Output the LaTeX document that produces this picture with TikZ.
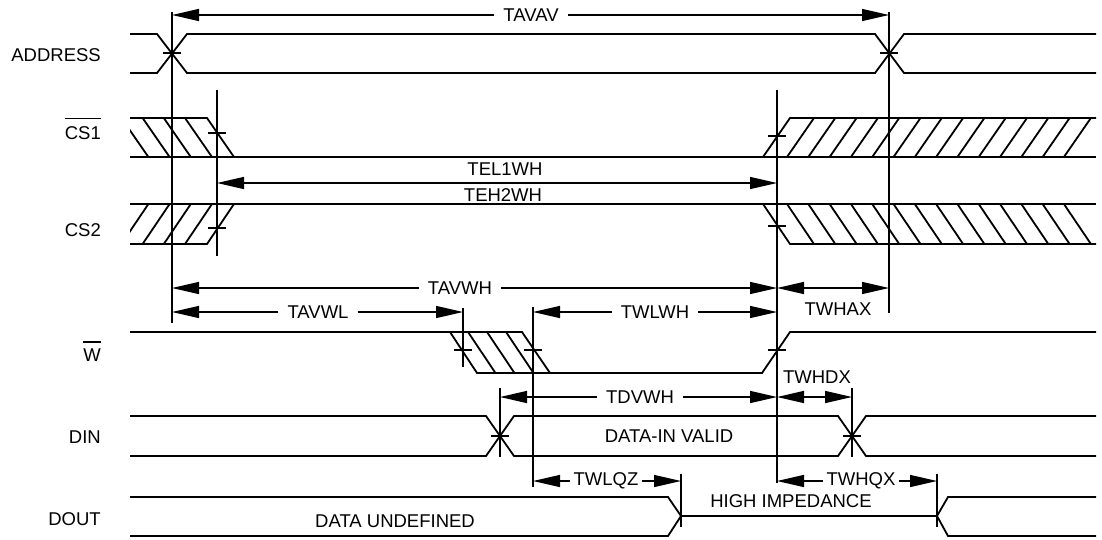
\documentclass[tikz,border=0pt]{standalone}
\usepackage{fontspec}
\setmainfont{Liberation Sans}
\usetikzlibrary{arrows.meta}
\begin{document}
\begin{tikzpicture}[x=1pt,y=-1pt,
  sig/.style={line width=1.8pt, line join=miter},
  ext/.style={line width=1.4pt},
  tickmark/.style={line width=1.4pt},
  dim/.style={line width=1.4pt, -{Triangle[length=27pt,width=12pt]}},
  dimb/.style={line width=1.4pt, {Triangle[length=27pt,width=12pt]}-{Triangle[length=27pt,width=12pt]}},
  lbl/.style={inner sep=0pt, anchor=east, font=\fontsize{18.5}{20}\selectfont},
  txt/.style={inner sep=0pt, font=\fontsize{18.5}{20}\selectfont},
  dtxt/.style={inner xsep=9pt, inner ysep=0pt, font=\fontsize{18.5}{20}\selectfont},
  dtxts/.style={inner xsep=3pt, inner ysep=0pt, font=\fontsize{18.5}{20}\selectfont},
  ovl/.style={line width=1.3pt}
]
\useasboundingbox (0,0) rectangle (1102,539);

% ---------- signal labels ----------
\node[lbl] (laddr) at (101,55) {ADDRESS};
\node[lbl] (lcs1) at (101,133) {CS1};
\draw[ovl] ([yshift=7.5pt]lcs1.north west) -- ([yshift=7.5pt]lcs1.north east);
\node[lbl] (lcs2) at (101,230) {CS2};
\node[lbl] (lw) at (101,355) {W};
\draw[ovl] ([yshift=6.5pt]lw.north west) -- ([yshift=6.5pt]lw.north east);
\node[lbl] (ldin) at (101,437) {DIN};
\node[lbl] (ldout) at (101,519) {DOUT};

% ---------- ADDRESS ----------
\draw[sig] (130,34) -- (157,34) -- (187,73) -- (875,73) -- (904,34) -- (1096,34);
\draw[sig] (130,73) -- (157,73) -- (187,34) -- (875,34) -- (904,73) -- (1096,73);

% ---------- CS1 ----------
\draw[sig] (130,118) -- (207,118) -- (234,157);
\draw[sig] (130,157) -- (1096,157);
\draw[sig] (763,157) -- (790,118) -- (1096,118);
\begin{scope}
  \clip (130,118) -- (207,118) -- (234,157) -- (130,157) -- cycle;
  \foreach \b in {148.4,169.6,190.8,212} \draw[sig] (\b-27,118) -- (\b,157);
\end{scope}
\foreach \k in {0,...,13} \draw[sig] (787+\k*21.3,157) -- (814+\k*21.3,118);

% ---------- CS2 ----------
\draw[sig] (130,204) -- (1096,204);
\draw[sig] (130,244) -- (207,244) -- (234,204);
\draw[sig] (763,204) -- (790,244) -- (1096,244);
\begin{scope}
  \clip (130,204) -- (234,204) -- (207,244) -- (130,244) -- cycle;
  \foreach \b in {148.4,169.6,190.8,212} \draw[sig] (\b-27,244) -- (\b,204);
\end{scope}
\foreach \k in {0,...,13} \draw[sig] (787+\k*21.3,204) -- (814+\k*21.3,244);

% ---------- W ----------
\draw[sig] (130,332) -- (522,332) -- (550,373);
\draw[sig] (450,332) -- (477,373) -- (762,373) -- (790,332) -- (1096,332);
\foreach \t in {468,487,506} \draw[sig] (\t,332) -- (\t+27.5,373);

% ---------- DIN ----------
\draw[sig] (130,416) -- (486,416) -- (514,456) -- (838,456) -- (866,416) -- (1096,416);
\draw[sig] (130,456) -- (486,456) -- (514,416) -- (838,416) -- (866,456) -- (1096,456);

% ---------- DOUT ----------
\draw[sig] (130,497) -- (668,497) -- (681,516) -- (668,536) -- (130,536);
\draw[sig] (681,516) -- (937,516);
\draw[sig] (1096,497) -- (948,497) -- (937,516) -- (948,536) -- (1096,536);

% ---------- extension lines ----------
\draw[ext] (172,12) -- (172,323);
\draw[ext] (889,12) -- (889,313);
\draw[ext] (217,90) -- (217,256);
\draw[ext] (777,90) -- (777,483);
\draw[ext] (463,308) -- (463,367);
\draw[ext] (533,307) -- (533,487);
\draw[ext] (500,388) -- (500,457);
\draw[ext] (852,388) -- (852,457);
\draw[ext] (681,474) -- (681,527);
\draw[ext] (937,474) -- (937,527);

% ---------- ticks ----------
\foreach \tx/\ty in {172/53,889/53,217/133,217/228,777/136,777/226,463/350,533/350,777/350,500/436,852/436}
  \draw[tickmark] (\tx-9,\ty) -- (\tx+9,\ty);

% ---------- dimensions ----------
\node[dtxt] (tavav) at (531,15) {TAVAV};
\coordinate (tavavL) at (172,15); \coordinate (tavavR) at (889,15);
\draw[dim] (tavav.west) -- (tavavL);
\draw[dim] (tavav.east) -- (tavavR);

\coordinate (telL) at (217,183); \coordinate (telR) at (777,183);
\draw[dimb] (telL) -- (telR);
\node[txt] (tel1wh) at (505,169) {TEL1WH};
\node[txt] (teh2wh) at (503,195) {TEH2WH};

\node[dtxt] (tavwh) at (460,288) {TAVWH};
\coordinate (tavwhL) at (172,288); \coordinate (tavwhR) at (777,288);
\draw[dim] (tavwh.west) -- (tavwhL);
\draw[dim] (tavwh.east) -- (tavwhR);

\coordinate (twhaxL) at (777,288); \coordinate (twhaxR) at (889,288);
\draw[dimb] (twhaxL) -- (twhaxR);
\node[txt] (twhax) at (838,309) {TWHAX};

\node[dtxt] (tavwl) at (318,312) {TAVWL};
\coordinate (tavwlL) at (172,312); \coordinate (tavwlR) at (463,312);
\draw[dim] (tavwl.west) -- (tavwlL);
\draw[dim] (tavwl.east) -- (tavwlR);

\node[dtxt] (twlwh) at (655,312) {TWLWH};
\coordinate (twlwhL) at (533,312); \coordinate (twlwhR) at (777,312);
\draw[dim] (twlwh.west) -- (twlwhL);
\draw[dim] (twlwh.east) -- (twlwhR);

\node[dtxt] (tdvwh) at (640,397) {TDVWH};
\coordinate (tdvwhL) at (500,397); \coordinate (tdvwhR) at (777,397);
\draw[dim] (tdvwh.west) -- (tdvwhL);
\draw[dim] (tdvwh.east) -- (tdvwhR);

\coordinate (twhdxL) at (777,397); \coordinate (twhdxR) at (852,397);
\draw[dimb] (twhdxL) -- (twhdxR);
\node[txt] (twhdx) at (817,377) {TWHDX};

\node[dtxts] (twlqz) at (606,481) {TWLQZ};
\coordinate (twlqzL) at (533,481); \coordinate (twlqzR) at (681,481);
\draw[dim] (twlqz.west) -- (twlqzL);
\draw[dim] (twlqz.east) -- (twlqzR);

\node[dtxts] (twhqx) at (861,481) {TWHQX};
\coordinate (twhqxL) at (777,481); \coordinate (twhqxR) at (937,481);
\draw[dim] (twhqx.west) -- (twhqxL);
\draw[dim] (twhqx.east) -- (twhqxR);

% ---------- state texts ----------
\node[txt] (dinvalid) at (669,436) {DATA-IN VALID};
\node[txt] (undef) at (395,521) {DATA UNDEFINED};
\node[txt] (highz) at (791,501) {HIGH IMPEDANCE};
\end{tikzpicture}
\end{document}
